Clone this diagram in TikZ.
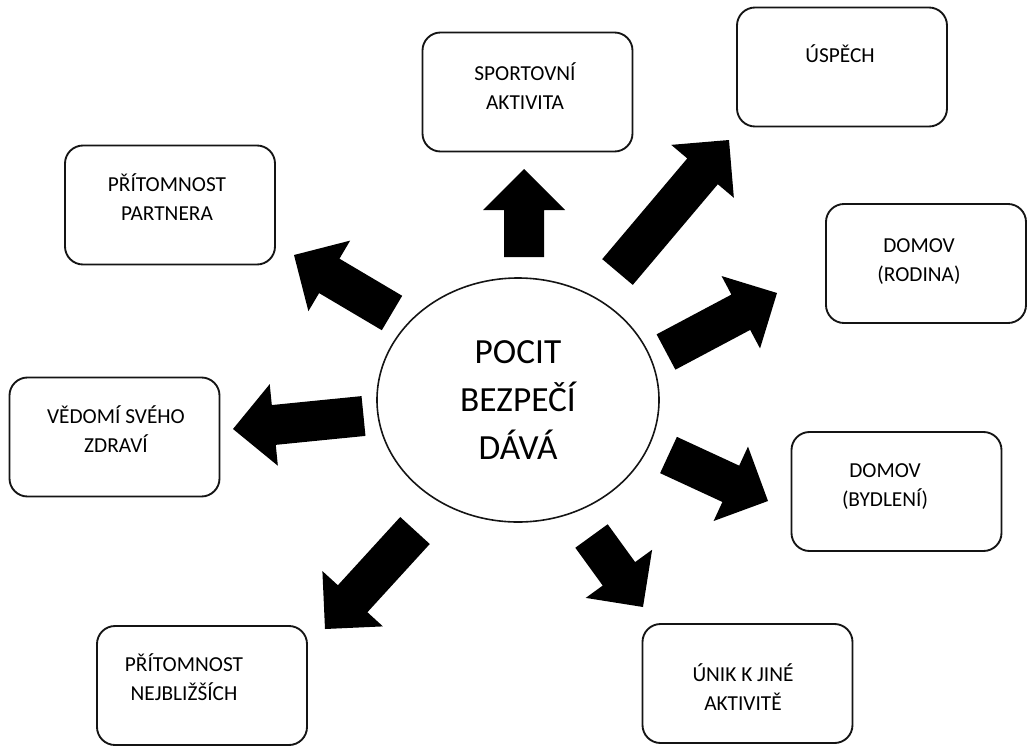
\documentclass[tikz,border=0pt]{standalone}
\usepackage{fontspec}
\setmainfont{Carlito}
\usetikzlibrary{calc,shapes.geometric}

\tikzset{
  box/.style={draw=black!92, line width=1.4pt, rounded corners=13.5pt,
    minimum width=157.5pt, minimum height=89.25pt, inner sep=0pt},
  % labels are placed by the baseline of their last line
  boxtext/.style={anchor=base, align=center, inner sep=0pt,
    font=\fontsize{16}{21.75}\selectfont},
  hub/.style={draw=black!92, line width=1.2pt, ellipse, minimum width=211.5pt,
    minimum height=183pt, align=center, font=\fontsize{26.5}{35.8}\selectfont},
  blockarrow/.style={fill=black},
}

% Block arrow from a tail coordinate to a tip coordinate:
% shaft 40px wide, head 82px wide and 41px long.
\newcommand{\blockarr}[2]{%
  \coordinate (#1n) at ($(#2)!30.75pt!(#1)$);
  \fill[blockarrow] ($(#1)!15pt!90:(#2)$) -- ($(#1n)!15pt!90:(#2)$)
    -- ($(#1n)!30.75pt!90:(#2)$) -- (#2) -- ($(#1n)!30.75pt!-90:(#2)$)
    -- ($(#1n)!15pt!-90:(#2)$) -- ($(#1)!15pt!-90:(#2)$) -- cycle;
}

\begin{document}
\begin{tikzpicture}[x=0.75pt, y=-0.75pt]
  \useasboundingbox (0,0) rectangle (1028,747);

  % central ellipse
  \node[hub] (core) at (518,400) {POCIT\\BEZPEČÍ\\DÁVÁ};

  % surrounding boxes
  \node[box] (sport)    at (527.5,92)  {};
  \node[box] (uspech)   at (842,67)    {};
  \node[box] (partner)  at (170,205)   {};
  \node[box, minimum width=150pt] (rodina) at (926,263.5) {};
  \node[box] (zdravi)   at (114.5,437) {};
  \node[box] (bydleni)  at (896.5,491.5) {};
  \node[box] (nejbl)    at (202,685.5) {};
  \node[box] (unik)     at (747.5,683.5) {};

  % box labels
  \node[boxtext] (sportT)   at (525,109)  {SPORTOVNÍ\\AKTIVITA};
  \node[boxtext] (uspechT)  at (840,62)   {ÚSPĚCH};
  \node[boxtext] (partnerT) at (167,220)  {PŘÍTOMNOST\\PARTNERA};
  \node[boxtext] (rodinaT)  at (919,281)  {DOMOV\\(RODINA)};
  \node[boxtext] (zdraviT)  at (116,452)  {VĚDOMÍ SVÉHO\\ZDRAVÍ};
  \node[boxtext] (bydleniT) at (885,506)  {DOMOV\\(BYDLENÍ)};
  \node[boxtext] (nejblT)   at (184,700)  {PŘÍTOMNOST\\NEJBLIŽŠÍCH};
  \node[boxtext] (unikT)    at (743,710)  {ÚNIK K JINÉ\\AKTIVITĚ};

  % arrow tails and tips
  \coordinate (a1) at (524,257);   \coordinate (b1) at (524,169);
  \coordinate (a2) at (617.5,272); \coordinate (b2) at (729,140);
  \coordinate (a3) at (666,352);   \coordinate (b3) at (777,293);
  \coordinate (a4) at (668.5,455); \coordinate (b4) at (768,501);
  \coordinate (a5) at (591.5,536); \coordinate (b5) at (643,607);
  \coordinate (a6) at (415,530.5); \coordinate (b6) at (325,629);
  \coordinate (a7) at (363.5,416); \coordinate (b7) at (233,429);
  \coordinate (a8) at (392,313);   \coordinate (b8) at (294,255);

  \blockarr{a1}{b1}
  \blockarr{a2}{b2}
  \blockarr{a3}{b3}
  \blockarr{a4}{b4}
  \blockarr{a5}{b5}
  \blockarr{a6}{b6}
  \blockarr{a7}{b7}
  \blockarr{a8}{b8}
\end{tikzpicture}
\end{document}
